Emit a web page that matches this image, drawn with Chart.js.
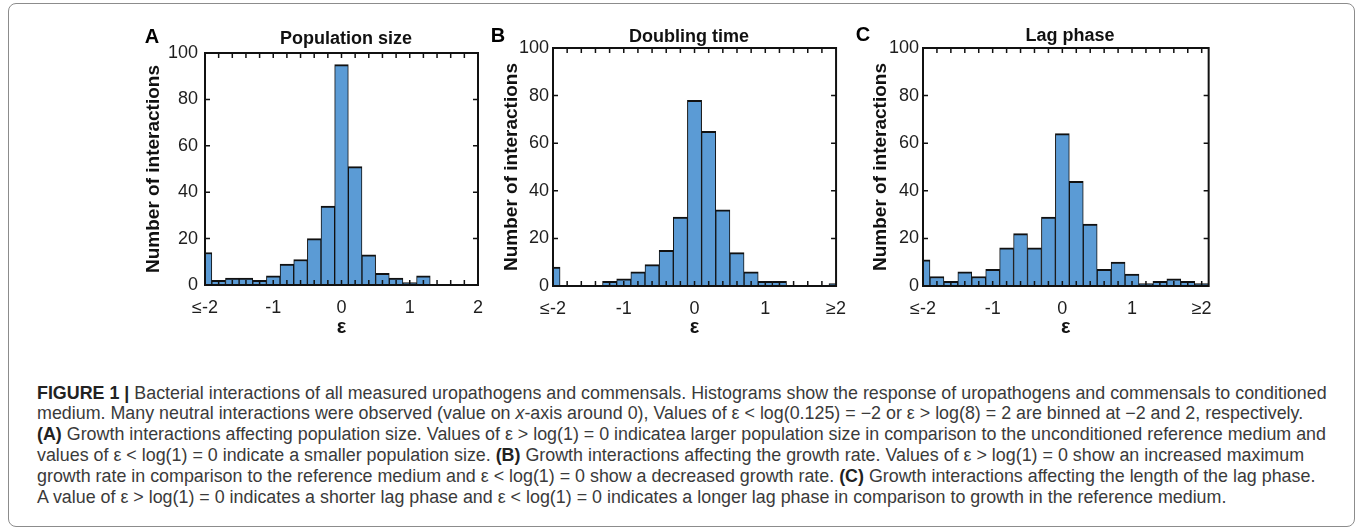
<!DOCTYPE html>
<html>
<head>
<meta charset="utf-8">
<script src="https://cdn.jsdelivr.net/npm/chart.js@4.4.1/dist/chart.umd.min.js"></script>
<style>
  body { margin: 0; background: #fff; width: 1357px; height: 529px; position: relative; overflow: hidden; font-family: "Liberation Sans", Arial, sans-serif; }
  .frame { position: absolute; left: 8px; top: 3px; width: 1345px; height: 522px; border: 1.5px solid #8c8c8c; border-radius: 8px; }
  canvas { position: absolute; top: 0; }
  .ptitle { position: absolute; font-weight: bold; font-size: 18px; color: #111; line-height: 18px; transform: translate(-50%, -50%); white-space: nowrap; }
  .letter { position: absolute; font-weight: bold; font-size: 20px; color: #000; line-height: 20px; transform: translate(-50%, -50%); }
  #caption { position: absolute; left: 37px; top: 382.6px; color: #3a3a3a; font-size: 15.5px; }
  #caption div { white-space: nowrap; height: 20.8px; line-height: 20.8px; }
  #caption b { color: #222; }
</style>
</head>
<body>
<div class="frame"></div>

<canvas id="chartA" width="365" height="345" style="left:130px"></canvas>
<canvas id="chartB" width="380" height="345" style="left:478px"></canvas>
<canvas id="chartC" width="376" height="345" style="left:848px"></canvas>

<div class="letter" style="left:152px; top:36px">A</div>
<div class="letter" style="left:498px; top:35px">B</div>
<div class="letter" style="left:863px; top:34px">C</div>
<div class="ptitle" style="left:346px; top:38px">Population size</div>
<div class="ptitle" style="left:689px; top:36px">Doubling time</div>
<div class="ptitle" style="left:1070px; top:35px">Lag phase</div>

<div id="caption">
  <div><b>FIGURE 1 |</b> Bacterial interactions of all measured uropathogens and commensals. Histograms show the response of uropathogens and commensals to conditioned</div>
  <div>medium. Many neutral interactions were observed (value on <i>x</i>-axis around 0), Values of ε &lt; log(0.125) = −2 or ε &gt; log(8) = 2 are binned at −2 and 2, respectively.</div>
  <div><b>(A)</b> Growth interactions affecting population size. Values of ε &gt; log(1) = 0 indicatea larger population size in comparison to the unconditioned reference medium and</div>
  <div>values of ε &lt; log(1) = 0 indicate a smaller population size. <b>(B)</b> Growth interactions affecting the growth rate. Values of ε &gt; log(1) = 0 show an increased maximum</div>
  <div>growth rate in comparison to the reference medium and ε &lt; log(1) = 0 show a decreased growth rate. <b>(C)</b> Growth interactions affecting the length of the lag phase.</div>
  <div>A value of ε &gt; log(1) = 0 indicates a shorter lag phase and ε &lt; log(1) = 0 indicates a longer lag phase in comparison to growth in the reference medium.</div>
</div>

<script>
// bin centres of the histograms (values at the ends are binned at -2 / 2)
const binCenters = [-2, -1.8, -1.6, -1.4, -1.2, -1, -0.8, -0.6, -0.4, -0.2, 0, 0.2, 0.4, 0.6, 0.8, 1, 1.2, 1.4, 1.6, 1.8, 2];

// number of interactions per bin
const populationSize = [14, 2, 3, 3, 2, 4, 9, 11, 20, 34, 95, 51, 13, 5, 3, 1, 4, 0, 0, 0, 0];
const doublingTime   = [8, 0, 0, 0, 2, 3, 6, 9, 15, 29, 78, 65, 32, 14, 6, 2, 2, 0, 0, 0, 1];
const lagPhase       = [11, 4, 2, 6, 4, 7, 16, 22, 16, 29, 64, 44, 26, 7, 10, 5, 1, 2, 3, 2, 1];

// axis ticks
const xTickValues = [-2, -1, 0, 1, 2];
const xLabelsA = ['≤-2', '-1', '0', '1', '2'];
const xLabelsBC = ['≤-2', '-1', '0', '1', '≥2'];
const yTickValues = [0, 20, 40, 60, 80, 100];

const barColor = 'rgb(91,155,213)';
const tickColor = '#1e1e1e';

// box around the plot with inward ticks
const boxTicks = {
    id: 'boxTicks',
    afterDatasetsDraw(chart) {
        const { ctx, chartArea: a, scales: { x, y } } = chart;
        ctx.save();
        ctx.strokeStyle = '#111';
        ctx.lineWidth = 1.5;
        ctx.beginPath();
        binCenters.forEach(v => {
            if (v <= x.min || v >= x.max) return;
            const px = x.getPixelForValue(v);
            ctx.moveTo(px, a.bottom); ctx.lineTo(px, a.bottom - 5);
            ctx.moveTo(px, a.top); ctx.lineTo(px, a.top + 5);
        });
        yTickValues.forEach(v => {
            if (v <= y.min || v >= y.max) return;
            const py = y.getPixelForValue(v);
            ctx.moveTo(a.left, py); ctx.lineTo(a.left + 5, py);
            ctx.moveTo(a.right, py); ctx.lineTo(a.right - 5, py);
        });
        ctx.stroke();
        ctx.lineWidth = 2;
        ctx.strokeRect(a.left, a.top, a.width, a.height);
        ctx.restore();
    }
};

function makePanel(id, counts, xMax, xLabels, opts) {
    const ctx = document.getElementById(id).getContext('2d');
    return new Chart(ctx, {
        type: 'bar',
        data: {
            datasets: [{
                data: binCenters.map((c, i) => ({ x: c, y: counts[i] })),
                backgroundColor: barColor,
                borderColor: '#111',
                borderWidth: { top: 2, left: 1, right: 1, bottom: 0 },
                borderSkipped: false,
                barPercentage: 1,
                categoryPercentage: 1,
                clip: 0
            }]
        },
        options: {
            responsive: false,
            devicePixelRatio: 1,
            animation: false,
            layout: { padding: { top: opts.top, right: opts.right, left: 0, bottom: 0 } },
            plugins: { legend: { display: false }, tooltip: { enabled: false } },
            scales: {
                x: {
                    type: 'linear',
                    min: -2,
                    max: xMax,
                    offset: false,
                    grid: { display: false, drawTicks: false, offset: false },
                    border: { display: false },
                    afterBuildTicks: s => { s.ticks = xTickValues.map(v => ({ value: v })); },
                    afterFit: s => { s.height = opts.xH; },
                    ticks: {
                        autoSkip: false,
                        maxRotation: 0,
                        padding: 12,
                        color: tickColor,
                        font: { family: 'Liberation Sans', size: 18 },
                        callback: v => xLabels[xTickValues.indexOf(v)]
                    },
                    title: {
                        display: true,
                        text: 'ε',
                        color: '#111',
                        font: { family: 'Liberation Sans', size: 20, weight: 'bold' },
                        padding: { top: 0, bottom: 6 }
                    }
                },
                y: {
                    min: 0,
                    max: 100,
                    grid: { display: false, drawTicks: false },
                    border: { display: false },
                    afterFit: s => { s.width = 75; },
                    ticks: {
                        stepSize: 20,
                        padding: opts.yPad,
                        color: tickColor,
                        font: { family: 'Liberation Sans', size: 18 }
                    },
                    title: {
                        display: true,
                        text: 'Number of interactions',
                        color: '#111',
                        font: { family: 'Liberation Sans', size: 19, weight: 'bold' },
                        padding: { top: opts.titlePad, bottom: 0 }
                    }
                }
            }
        },
        plugins: [boxTicks]
    });
}

makePanel('chartA', populationSize, 2, xLabelsA, { top: 53, right: 13, xH: 60, yPad: 7, titlePad: 12 });
makePanel('chartB', doublingTime, 2, xLabelsBC, { top: 48, right: 15, xH: 59, yPad: 4, titlePad: 22 });
makePanel('chartC', lagPhase, 2.1, xLabelsBC, { top: 48, right: 15, xH: 59, yPad: 4, titlePad: 21 });

// fit the caption to the width of the original text block
const cap = document.getElementById('caption');
const first = cap.children[0];
const w = first.getBoundingClientRect().width;
cap.style.fontSize = (15.5 * 1291 / w).toFixed(2) + 'px';
</script>
</body>
</html>
